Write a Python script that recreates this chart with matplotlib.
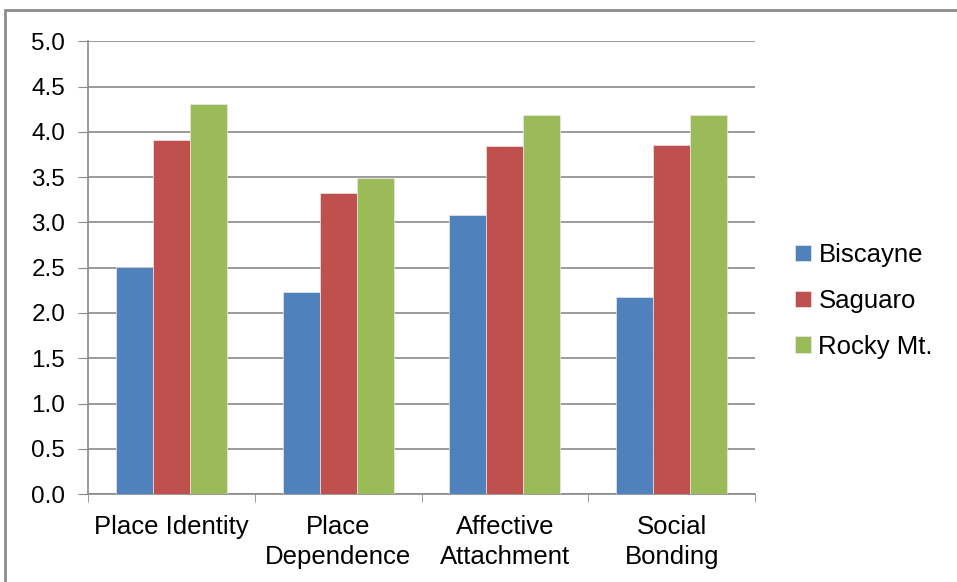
import numpy as np
import matplotlib.pyplot as plt
from matplotlib.patches import Rectangle

plt.rcParams['font.family'] = ['Liberation Sans', 'DejaVu Sans']

categories = ['Place Identity', 'Place\nDependence', 'Affective\nAttachment', 'Social\nBonding']
biscayne = [2.51, 2.23, 3.08, 2.18]
saguaro = [3.91, 3.32, 3.84, 3.85]
rocky = [4.31, 3.49, 4.19, 4.19]
series_names = ['Biscayne', 'Saguaro', 'Rocky Mt.']
colors = ['#4F81BD', '#C0504D', '#9BBB59']

fig = plt.figure(figsize=(9.57, 5.82), dpi=100)
ax = fig.add_axes([0.092, 0.151, 0.697, 0.778])

# chart border, open to the right and bottom
fig.patches.append(Rectangle((5 / 957, -0.1), 1.2, 1.1 - 10 / 582,
                             transform=fig.transFigure, fill=False,
                             edgecolor='#8c8c8c', linewidth=2))

x = np.arange(len(categories))
w = 0.222
for i, (vals, name, c) in enumerate(zip([biscayne, saguaro, rocky], series_names, colors)):
    ax.bar(x + (i - 1) * w, vals, w, color=c, edgecolor='#e8e8e8',
           linewidth=0.5, label=name, zorder=3)

ax.set_xlim(-0.5, 3.5)
ax.set_ylim(0, 5)
ax.set_yticks(np.arange(0, 5.01, 0.5))
ax.set_yticklabels([f'{v:.1f}' for v in np.arange(0, 5.01, 0.5)], fontsize=17.5)
ax.yaxis.grid(True, color='#8a8a8a', linewidth=1.2, zorder=0)

ax.set_xticks(x)
ax.set_xticklabels(categories, fontsize=18.5, linespacing=1.3)
ax.tick_params(axis='x', length=0, pad=15)
ax.set_xticks(np.arange(-0.5, 3.6, 1), minor=True)
ax.tick_params(axis='x', which='minor', length=6, color='#8a8a8a')
ax.tick_params(axis='y', length=7.5, color='#8a8a8a', pad=9)

for s in ['top', 'right']:
    ax.spines[s].set_visible(False)
for s in ['left', 'bottom']:
    ax.spines[s].set_color('#8a8a8a')
    ax.spines[s].set_linewidth(1.2)

ax.legend(loc='center left', bbox_to_anchor=(1.045, 0.427), frameon=False,
          fontsize=18.5, handlelength=0.6, handleheight=0.6, handletextpad=0.3,
          labelspacing=0.85, borderaxespad=0)

fig.savefig('out.png', dpi=100)
